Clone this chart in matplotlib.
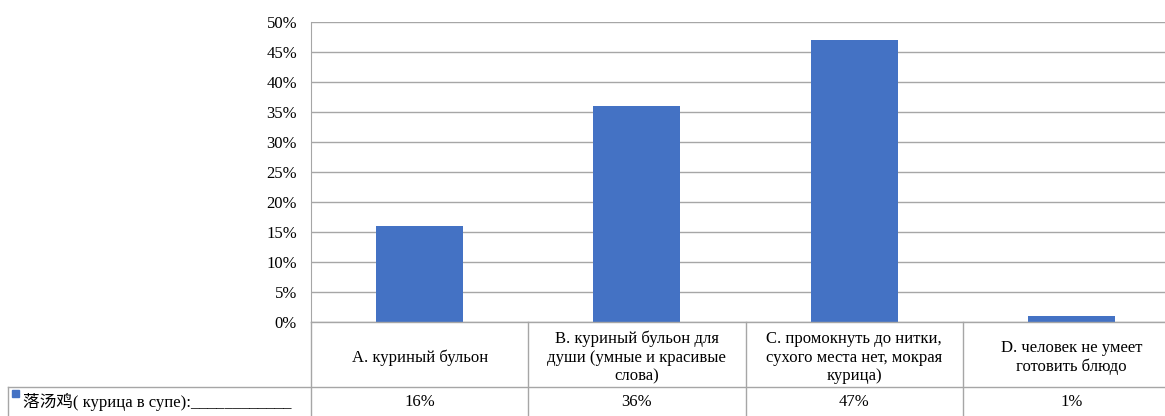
import matplotlib as mpl
mpl.use("Agg")
import matplotlib.pyplot as plt
from matplotlib.ticker import FuncFormatter

plt.rcParams["font.family"] = ["Liberation Serif", "Noto Sans CJK SC"]

# ── Data ──────────────────────────────────────────────────────────────────────
categories = [
    "A. куриный бульон",
    "B. куриный бульон для\nдуши (умные и красивые\nслова)",
    "C. промокнуть до нитки,\nсухого места нет, мокрая\nкурица)",
    "D. человек не умеет\nготовить блюдо",
]
values = [16, 36, 47, 1]
series_name = "落汤鸡( курица в супе):____________"
yticks = list(range(0, 55, 5))

BAR_COLOR = "#4472C4"
LINE_COLOR = "#A6A6A6"
FS = 12

W, H = 1165, 416
fig = plt.figure(figsize=(W / 100, H / 100), dpi=100)


def fx(px):
    return px / W


def fy(py):
    return 1 - py / H


# plot area (right edge runs past the crop, like the source)
left, right, top, bottom = 311, 1180, 21.5, 322
ax = fig.add_axes([fx(left), fy(bottom), fx(right - left), fy(top) - fy(bottom)])
x = range(len(values))
ax.bar(x, values, width=0.4, color=BAR_COLOR, zorder=3)
ax.set_xlim(-0.5, len(values) - 0.5)
ax.set_ylim(0, 50)
ax.set_yticks(yticks)
ax.yaxis.set_major_formatter(FuncFormatter(lambda v, _: f"{v:.0f}%"))
ax.set_xticks([])
ax.grid(axis="y", color=LINE_COLOR, linewidth=1.0, zorder=0)
for s in ["top", "right", "bottom"]:
    ax.spines[s].set_visible(False)
ax.spines["left"].set_color(LINE_COLOR)
ax.tick_params(axis="y", length=0, pad=10, labelsize=FS)

# ── Data table under the plot ────────────────────────────────────────────────
tab = fig.add_axes([0, 0, 1, 1])
tab.set_xlim(0, W)
tab.set_ylim(H, 0)
tab.axis("off")

col_w = (right - left) / len(categories)
row1_bot = 387
tab.plot([left, W + 20], [bottom, bottom], color=LINE_COLOR, lw=1.0)
tab.plot([8, W + 20], [row1_bot, row1_bot], color=LINE_COLOR, lw=1.0)
tab.plot([8, 8], [row1_bot, H + 5], color=LINE_COLOR, lw=1.0)
for i in range(len(categories) + 1):
    xx = left + i * col_w
    tab.plot([xx, xx], [bottom, H + 5], color=LINE_COLOR, lw=1.0)

for i, (cat, v) in enumerate(zip(categories, values)):
    cx = left + (i + 0.5) * col_w
    tab.text(cx, (bottom + row1_bot) / 2 + 3, cat, ha="center", va="center",
             fontsize=FS, linespacing=1.2)
    tab.text(cx, 402, f"{v}%", ha="center", va="center", fontsize=FS)

tab.add_patch(plt.Rectangle((12, 390), 7, 7, color=BAR_COLOR))
tab.text(23, 402, series_name, ha="left", va="center", fontsize=FS)

fig.savefig("out.png", dpi=100)
